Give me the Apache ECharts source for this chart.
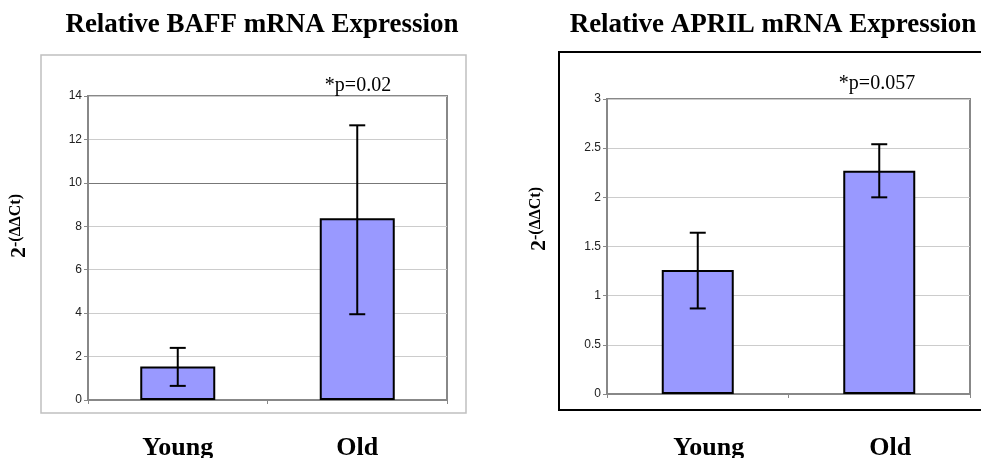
<!DOCTYPE html>
<html>
<head>
<meta charset="utf-8">
<script src="https://cdn.jsdelivr.net/npm/echarts@6/dist/echarts.min.js"></script>
<style>html,body{margin:0;padding:0;background:#fff}#c{width:981px;height:458px}</style>
</head>
<body>
<div id="c"></div>
<script>
var categories = ['Young', 'Old'];
var baffMean = [1.54, 8.37];
var baffLow = [0.65, 3.95];
var baffHigh = [2.4, 12.65];
var aprilMean = [1.26, 2.27];
var aprilLow = [0.87, 2.0];
var aprilHigh = [1.64, 2.54];
var baffTicks = {min: 0, max: 14, interval: 2};
var aprilTicks = {min: 0, max: 3, interval: 0.5};
var titles = ['Relative BAFF mRNA Expression', 'Relative APRIL mRNA Expression'];
var pLabels = ['*p=0.02', '*p=0.057'];
var yName = ['2', '-(\u0394\u0394Ct)'];

var SERIF = '"Liberation Serif", "Times New Roman", serif';
var SANS = '"Liberation Sans", Arial, sans-serif';

function errData(low, high) {
  return categories.map(function (c, i) { return [i, low[i], high[i]]; });
}
function renderErr(params, api) {
  var i = api.value(0);
  var lo = api.coord([i, api.value(1)]);
  var hi = api.coord([i, api.value(2)]);
  var h = 8;
  var st = {stroke: '#000', lineWidth: 2};
  return {type: 'group', children: [
    {type: 'line', shape: {x1: lo[0], y1: lo[1], x2: hi[0], y2: hi[1]}, style: st},
    {type: 'line', shape: {x1: hi[0] - h, y1: hi[1], x2: hi[0] + h, y2: hi[1]}, style: st},
    {type: 'line', shape: {x1: lo[0] - h, y1: lo[1], x2: lo[0] + h, y2: lo[1]}, style: st}
  ]};
}
function yAxisCfg(idx, t, splitColors) {
  return {
    type: 'value', gridIndex: idx, min: t.min, max: t.max, interval: t.interval,
    axisLine: {show: true, lineStyle: {color: '#888', width: 2}},
    axisTick: {show: true, length: 4, lineStyle: {color: '#888'}},
    axisLabel: {fontFamily: SANS, fontSize: 12, color: '#222', margin: 6},
    splitLine: {show: true, lineStyle: {color: splitColors, width: 1}}
  };
}
function xAxisCfg(idx, margin, pad) {
  return {
    type: 'category', gridIndex: idx, data: categories,
    axisLine: {show: true, lineStyle: {color: '#888', width: 2}},
    axisTick: {show: true, length: 4, lineStyle: {color: '#888'}},
    axisLabel: {fontFamily: SERIF, fontSize: 26, fontWeight: 'bold', color: '#000', margin: margin, padding: pad}
  };
}
function yNameText(x, y) {
  return {
    type: 'text', x: x, y: y, rotation: Math.PI / 2, z: 10,
    style: {
      text: '{b|' + yName[0] + '}{s|' + yName[1] + '}',
      align: 'center', verticalAlign: 'middle',
      rich: {
        b: {fontFamily: SERIF, fontSize: 22, fontWeight: 'bold', fill: '#000', lineHeight: 22},
        s: {fontFamily: SERIF, fontSize: 16, fontWeight: 'bold', fill: '#000', lineHeight: 16, verticalAlign: 'top'}
      }
    }
  };
}
function plainText(x, y, txt, size, weight) {
  return {type: 'text', x: x, y: y, z: 10, style: {text: txt, fontFamily: SERIF, fontSize: size, fontWeight: weight, fill: '#000', align: 'center', verticalAlign: 'middle'}};
}

var chart = echarts.init(document.getElementById('c'), null, {renderer: 'canvas'});
chart.setOption({
  backgroundColor: '#fff',
  animation: false,
  grid: [
    {left: 88, right: 534, top: 96, bottom: 58, show: true, borderColor: '#888', borderWidth: 2, backgroundColor: 'transparent', containLabel: false, outerBoundsMode: 'none'},
    {left: 607, right: 11, top: 99, bottom: 64, show: true, borderColor: '#888', borderWidth: 2, backgroundColor: 'transparent', containLabel: false, outerBoundsMode: 'none'}
  ],
  xAxis: [xAxisCfg(0, 35, [0, 0, 0, 0]), xAxisCfg(1, 41, [0, 0, 0, 22])],
  yAxis: [
    yAxisCfg(0, baffTicks, ['#ccc', '#ccc', '#ccc', '#ccc', '#ccc', '#777', '#ccc', '#ccc']),
    yAxisCfg(1, aprilTicks, ['#ccc'])
  ],
  series: [
    {type: 'bar', xAxisIndex: 0, yAxisIndex: 0, data: baffMean, barWidth: 75,
     itemStyle: {color: '#9999ff', borderColor: '#000', borderWidth: 2}},
    {type: 'custom', xAxisIndex: 0, yAxisIndex: 0, data: errData(baffLow, baffHigh), renderItem: renderErr, z: 5},
    {type: 'bar', xAxisIndex: 1, yAxisIndex: 1, data: aprilMean, barWidth: 72,
     itemStyle: {color: '#9999ff', borderColor: '#000', borderWidth: 2}},
    {type: 'custom', xAxisIndex: 1, yAxisIndex: 1, data: errData(aprilLow, aprilHigh), renderItem: renderErr, z: 5}
  ],
  graphic: [
    {type: 'rect', shape: {x: 41, y: 55, width: 425, height: 358}, style: {fill: 'none', stroke: '#c0c0c0', lineWidth: 1.5}, z: -1},
    {type: 'rect', shape: {x: 559, y: 52, width: 440, height: 358}, style: {fill: 'none', stroke: '#000', lineWidth: 2}, z: -1},
    plainText(262, 25, titles[0], 27, 'bold'),
    plainText(773, 25, titles[1], 27, 'bold'),
    plainText(358, 86, pLabels[0], 20, 'normal'),
    plainText(877, 84, pLabels[1], 20, 'normal'),
    yNameText(19, 226),
    yNameText(539, 219)
  ]
});
</script>
</body>
</html>
